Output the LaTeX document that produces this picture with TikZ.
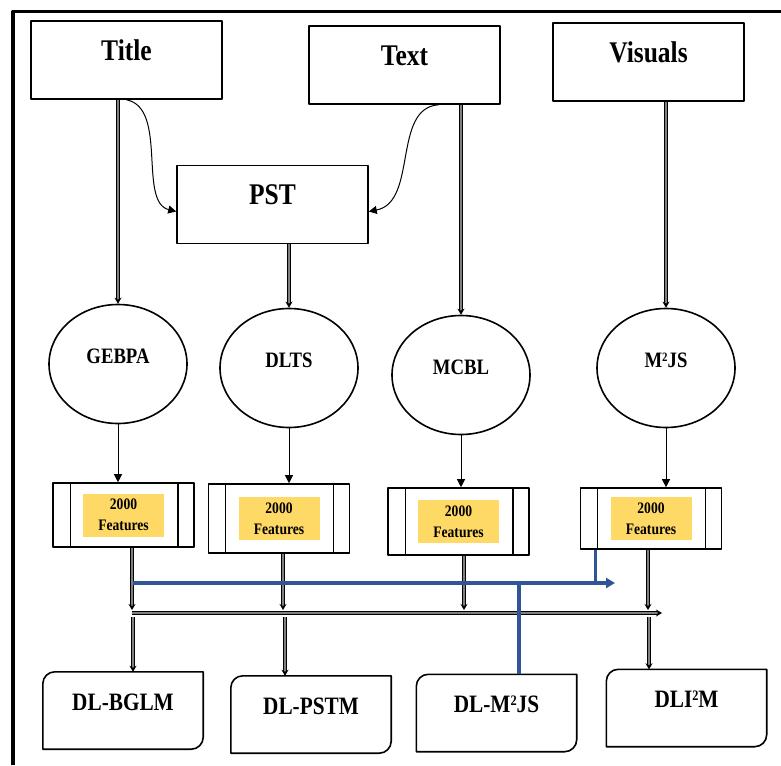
\documentclass[tikz,border=0pt]{standalone}
\usepackage{fontspec}
\setmainfont{Liberation Serif}[FakeStretch=0.85]
\usetikzlibrary{arrows.meta,shapes.geometric}
\definecolor{featyellow}{RGB}{255,217,102}
\definecolor{linkblue}{RGB}{47,85,151}
% small raised 2
\newcommand{\sqtwo}{\raisebox{0.29em}{\scalebox{0.58}{2}}}
% frame of a DL box: round top left and bottom right corners
\newcommand{\dlframe}[1]{%
  \draw[line width=1.6pt] ([yshift=-12pt]#1.north west) arc[start angle=180,end angle=90,radius=12pt]
    -- (#1.north east) -- ([yshift=12pt]#1.south east) arc[start angle=0,end angle=-90,radius=12pt]
    -- (#1.south west) -- cycle;}
\begin{document}
\begin{tikzpicture}[x=1pt,y=-1pt,line join=round,
    >={Triangle[length=8pt,width=8pt]},
    topbox/.style={draw,line width=1.6pt,minimum width=191pt,minimum height=78pt,text depth=19pt,font=\fontsize{30}{32}\selectfont\bfseries},
    algo/.style={draw,ellipse,line width=1.6pt,minimum width=138pt,minimum height=119pt,text depth=16pt,font=\fontsize{22}{24}\selectfont\bfseries},
    featbox/.style={draw,line width=1.6pt,minimum width=141pt},
    feat/.style={fill=featyellow,minimum width=81pt,minimum height=43pt,inner sep=0pt,align=center,font=\fontsize{16}{21}\selectfont\bfseries},
    dlbox/.style={minimum width=160pt,minimum height=77pt,text depth=17pt,font=\fontsize{25}{27}\selectfont\bfseries},
    dbl/.style={line width=1pt,double=gray,double distance=2.4pt,-{Stealth[length=6pt,width=7pt]}},
    feed/.style={line width=0.8pt,->},
    link/.style={draw=linkblue,line width=3.5pt}]
  \useasboundingbox (0,0) rectangle (781,765);
  \draw[line width=3.5pt] (13,765) -- (13,11.5) -- (781,11.5);
  % sources
  \node[topbox] (title) at (126.5,60) {Title};
  \node[topbox] (txt) at (404.5,65) {Text};
  \node[topbox] (vis) at (648.5,62) {Visuals};
  \node[topbox] (pst) at (272.5,204.5) {PST};
  % models
  \node[algo] (gebpa) at (118,364) {GEBPA};
  \node[algo] (dlts) at (289,368) {DLTS};
  \node[algo] (mcbl) at (461,375) {MCBL};
  \node[algo] (mjs) at (666,368) {M\sqtwo JS};
  % feature blocks
  \node[featbox,minimum height=64pt] (f1) at (123.5,515) {};
  \node[featbox,minimum height=69pt] (f2) at (279,518.5) {};
  \node[featbox,minimum height=67pt] (f3) at (458.5,521.5) {};
  \node[featbox,minimum height=61pt] (f4) at (651,518.5) {};
  \foreach \f in {f1,f2,f3,f4}{
    \draw[line width=1.4pt] ([xshift=18pt]\f.north west) -- ([xshift=18pt]\f.south west)
      ([xshift=-17pt]\f.north east) -- ([xshift=-17pt]\f.south east);
    \node[feat] (\f txt) at (\f) {2000\\Features};
  }
  % outputs
  \node[dlbox] (bglm) at (123,710.5) {DL-BGLM};
  \node[dlbox] (pstm) at (311,714.5) {DL-PSTM};
  \node[dlbox] (mjsm) at (496.5,713) {DL-M\sqtwo JS};
  \node[dlbox] (iim) at (686.5,708) {DLI\sqtwo M};
  \foreach \b in {bglm,pstm,mjsm,iim}{\dlframe{\b}}
  % links
  \draw[dbl] (gebpa.north |- title.south) -- (gebpa.north);
  \draw[dbl] (dlts.north |- pst.south) -- (dlts.north);
  \draw[dbl] (mcbl.north |- txt.south) -- (mcbl.north);
  \draw[dbl] (mjs.north |- vis.south) -- (mjs.north);
  \draw[->,line width=1pt] (title.south) .. controls (168,108) and (138,202) .. ([yshift=-7pt]pst.west);
  \draw[->,line width=1pt] ([xshift=34pt]txt.south) .. controls (392,108) and (418,202) .. ([yshift=-7pt]pst.east);
  \draw[feed] (gebpa.south) -- (gebpa.south |- f1.north);
  \draw[feed] (dlts.south) -- (dlts.south |- f2.north);
  \draw[feed] (mcbl.south) -- (mcbl.south |- f3.north);
  \draw[feed] (mjs.south) -- (mjs.south |- f4.north);
  % bus
  \coordinate (busw) at (132,613);
  \coordinate (buse) at (662,613);
  \draw[dbl] (busw) -- (buse);
  \draw[dbl] ([xshift=8.5pt]f1.south) -- ([xshift=8.5pt,yshift=3pt]f1.south |- busw);
  \draw[dbl] ([xshift=4pt]f2.south) -- ([xshift=4pt,yshift=3pt]f2.south |- busw);
  \draw[dbl] ([xshift=5.5pt]f3.south) -- ([xshift=5.5pt,yshift=3pt]f3.south |- busw);
  \draw[dbl] ([xshift=-3pt]f4.south) -- ([xshift=-3pt,yshift=3pt]f4.south |- busw);
  \draw[dbl] ([xshift=10pt,yshift=-4pt]bglm.north |- busw) -- ([xshift=10pt]bglm.north);
  \draw[dbl] ([xshift=-26pt,yshift=-4pt]pstm.north |- busw) -- ([xshift=-26pt]pstm.north);
  \draw[dbl] ([xshift=-37.5pt,yshift=-4pt]iim.north |- busw) -- ([xshift=-37.5pt]iim.north);
  % blue path
  \coordinate (bluew) at (133,583);
  \coordinate (bluee) at (615,583);
  \draw[link,-{Triangle[length=9pt,width=10pt]}] (bluew) -- (bluee);
  \draw[link] ([xshift=16pt]f4.south west) -- ([xshift=16pt]f4.south west |- bluew);
  \draw[link] ([xshift=22.5pt]mjsm.north |- bluew) -- ([xshift=22.5pt]mjsm.north);
\end{tikzpicture}
\end{document}
